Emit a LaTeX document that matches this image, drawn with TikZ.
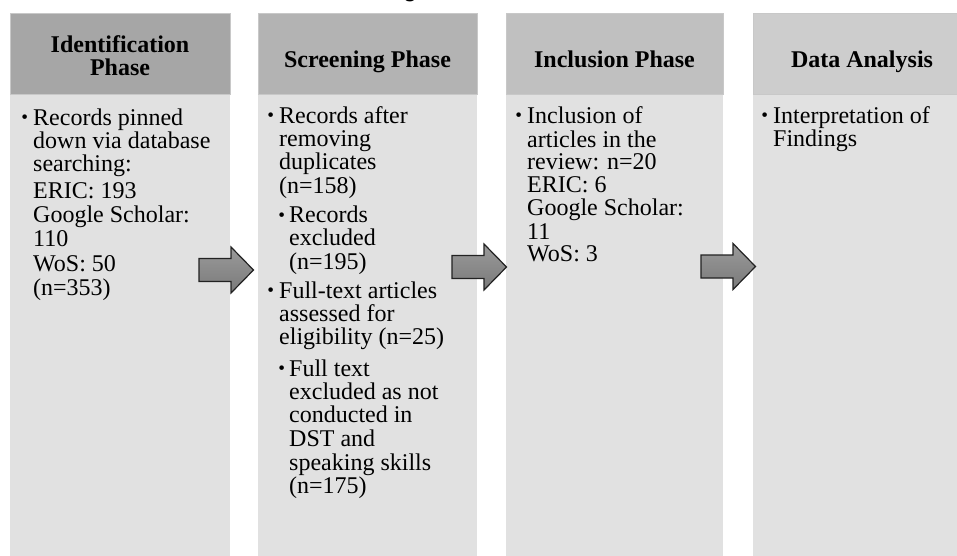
\documentclass[tikz,border=0pt]{standalone}
\usepackage{fontspec}
\setmainfont{Liberation Serif}
\newfontfamily\titlefont{Liberation Sans}
\definecolor{hA}{HTML}{A6A6A6}
\definecolor{hB}{HTML}{B3B3B3}
\definecolor{hC}{HTML}{C0C0C0}
\definecolor{hD}{HTML}{CDCDCD}
\definecolor{hdrline}{HTML}{C8C8C8}
\definecolor{bodyfill}{HTML}{E1E1E1}
\definecolor{arrowline}{HTML}{222222}
\definecolor{arrowtop}{HTML}{9A9A9A}
\definecolor{arrowbot}{HTML}{7A7A7A}
\tikzset{
  hdr/.style={draw=hdrline, line width=0.8pt, inner sep=0pt, anchor=north west, minimum height=81pt},
  bodycol/.style={fill=bodyfill, inner sep=0pt, anchor=north west, minimum height=470pt},
  hdrtext/.style={font=\bfseries\fontsize{24}{22.5}\selectfont, anchor=base, inner sep=0pt},
  bodytext/.style={font=\fontsize{24}{22}\selectfont, anchor=base west, inner sep=0pt},
  barrow/.style={draw=arrowline, line width=1.2pt, top color=arrowtop, bottom color=arrowbot, line join=miter},
}
\newcommand{\bul}{\llap{\raisebox{1.2pt}{\scalebox{0.8}{•}}\hspace{5pt}}}
\newcommand{\subbul}{\hspace*{10pt}\llap{\raisebox{1.2pt}{\scalebox{0.8}{•}}\hspace{4pt}}}
\newcommand{\subind}{\hspace*{10pt}}
\begin{document}
\begin{tikzpicture}[x=1pt,y=-1pt]
\useasboundingbox (0,0) rectangle (957,555);
\fill[white] (0,0) rectangle (957,555);
% title fragment (only the foot of the letter shows)
\begin{scope}
\clip (0,0) rectangle (957,555);
\node[font=\titlefont\fontsize{26}{26}\selectfont, anchor=base, inner sep=0pt] (title) at (410,-3.5) {g};
\end{scope}
% column bodies
\node[bodycol, minimum width=220pt] (b1) at (10,94) {};
\node[bodycol, minimum width=219pt] (b2) at (258,94) {};
\node[bodycol, minimum width=217pt] (b3) at (506,94) {};
\node[bodycol, minimum width=219pt] (b4) at (753,94) {};
% headers
\node[hdr, fill=hA, minimum width=220pt] (h1) at (10,13) {};
\node[hdr, fill=hB, minimum width=219pt] (h2) at (258,13) {};
\node[hdr, fill=hC, minimum width=217pt] (h3) at (506,13) {};
\node[hdr, fill=hD, minimum width=219pt] (h4) at (753,13) {};
% header texts
\node[hdrtext] (h1t) at (120,52) {\begin{tabular}[t]{@{}c@{}}Identification\\[0.5pt]Phase\end{tabular}};
\node[hdrtext] (h2t) at (367.5,67) {Screening Phase};
\node[hdrtext] (h3t) at (614.5,67) {Inclusion Phase};
\node[hdrtext] (h4t) at (862,67) {Data Analysis};
% body texts
\node[bodytext] (t1) at (33,125) {\begin{tabular}[t]{@{}l@{}}
\bul Records pinned\\
down via database\\
searching:\\[4pt]
ERIC: 193\\[1pt]
Google Scholar:\\[2pt]
110\\[2pt]
WoS: 50\\[1pt]
(n=353)
\end{tabular}};
\node[bodytext] (t2) at (279,123) {\begin{tabular}[t]{@{}l@{}}
\bul Records after\\[1pt]
removing\\
duplicates\\
(n=158)\\[6pt]
\subbul Records\\
\subind excluded\\[1pt]
\subind (n=195)\\[5pt]
\bul Full-text articles\\
assessed for\\
eligibility (n=25)\\[8pt]
\subbul Full text\\
\subind excluded as not\\
\subind conducted in\\[1pt]
\subind DST and\\
\subind speaking skills\\
\subind (n=175)
\end{tabular}};
\node[bodytext] (t3) at (527,123) {\begin{tabular}[t]{@{}l@{}}
\bul Inclusion of\\[1pt]
articles in the\\
review: n=20\\
ERIC: 6\\
Google Scholar:\\[1pt]
11\\
WoS: 3
\end{tabular}};
\node[bodytext] (t4) at (773,123) {\begin{tabular}[t]{@{}l@{}}
\bul Interpretation of\\
Findings
\end{tabular}};
% block arrows
\coordinate (a1) at (199,270);
\coordinate (a2) at (452,267);
\coordinate (a3) at (701,266.5);
\foreach \a in {a1,a2,a3}{
  \draw[barrow] (\a) ++(0,-11.5) -- ++(32,0) -- ++(0,-11.5) -- ++(22.5,23) -- ++(-22.5,23) -- ++(0,-11.5) -- ++(-32,0) -- cycle;
}
\end{tikzpicture}
\end{document}
